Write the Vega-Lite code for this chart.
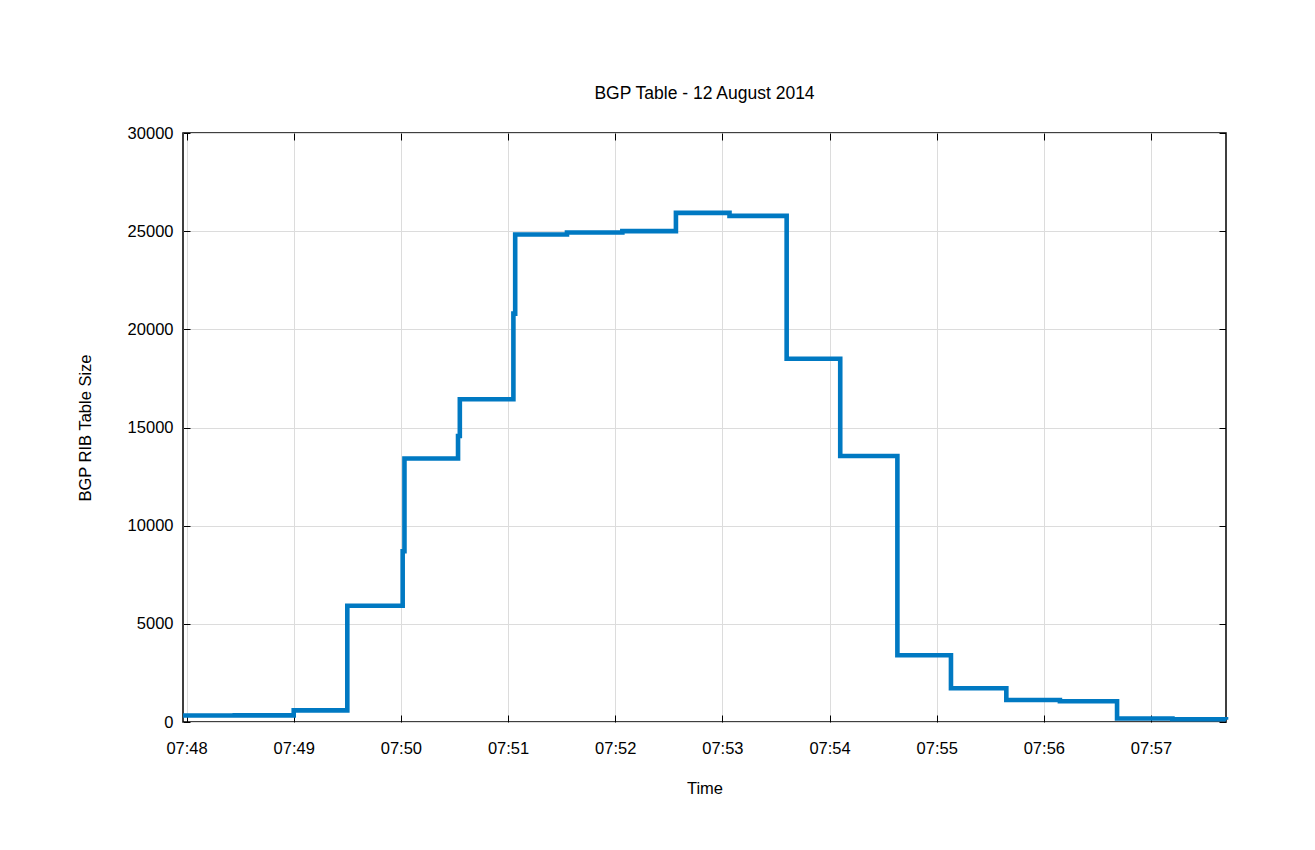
{
  "$schema": "https://vega.github.io/schema/vega-lite/v6.json",
  "autosize": {"type": "none"},
  "padding": {"left": 183, "top": 133, "right": 89, "bottom": 128},
  "width": 1043,
  "height": 589,
  "background": "white",
  "title": {
    "text": "BGP Table - 12 August 2014",
    "font": "Liberation Sans",
    "fontSize": 17.5,
    "fontWeight": "normal",
    "color": "black",
    "anchor": "middle",
    "offset": 23
  },
  "config": {
    "view": {"stroke": "black", "strokeWidth": 1.5},
    "axis": {
      "labelFont": "Liberation Sans",
      "labelFontSize": 16.5,
      "labelColor": "black",
      "titleFont": "Liberation Sans",
      "titleFontSize": 16.5,
      "titleFontWeight": "normal",
      "titleColor": "black",
      "domain": false,
      "tickColor": "black",
      "tickWidth": 1,
      "gridColor": "#dcdcdc",
      "gridWidth": 1
    }
  },
  "data": {
    "values": [
      {"time": "2014-08-12T07:47:58", "size": 330},
      {"time": "2014-08-12T07:48:27", "size": 340},
      {"time": "2014-08-12T07:49:00", "size": 590},
      {"time": "2014-08-12T07:49:30", "size": 5920},
      {"time": "2014-08-12T07:50:01", "size": 8700},
      {"time": "2014-08-12T07:50:02", "size": 13420},
      {"time": "2014-08-12T07:50:32", "size": 14570},
      {"time": "2014-08-12T07:50:33", "size": 16440},
      {"time": "2014-08-12T07:51:03", "size": 20800},
      {"time": "2014-08-12T07:51:04", "size": 24830},
      {"time": "2014-08-12T07:51:33", "size": 24930},
      {"time": "2014-08-12T07:52:04", "size": 25000},
      {"time": "2014-08-12T07:52:34", "size": 25930},
      {"time": "2014-08-12T07:53:04", "size": 25780},
      {"time": "2014-08-12T07:53:36", "size": 18500},
      {"time": "2014-08-12T07:54:06", "size": 13550},
      {"time": "2014-08-12T07:54:38", "size": 3400},
      {"time": "2014-08-12T07:55:08", "size": 1720},
      {"time": "2014-08-12T07:55:39", "size": 1120},
      {"time": "2014-08-12T07:56:09", "size": 1060},
      {"time": "2014-08-12T07:56:41", "size": 180},
      {"time": "2014-08-12T07:57:12", "size": 140},
      {"time": "2014-08-12T07:57:42", "size": 120}
    ]
  },
  "resolve": {"axis": {"x": "independent", "y": "independent"}},
  "layer": [
    {
      "mark": {"type": "line", "interpolate": "step-after", "color": "#0079C2", "strokeWidth": 4.6, "strokeJoin": "miter", "strokeCap": "butt"},
      "encoding": {
        "x": {
          "field": "time",
          "type": "temporal",
          "axis": {
            "orient": "bottom",
            "title": "Time",
            "tickCount": 10,
            "format": "%H:%M",
            "tickSize": -7,
            "labelPadding": 25,
            "titlePadding": 24
          }
        },
        "y": {
          "field": "size",
          "type": "quantitative",
          "scale": {"domain": [0, 30000], "nice": false},
          "axis": {
            "orient": "left",
            "title": "BGP RIB Table Size",
            "values": [0, 5000, 10000, 15000, 20000, 25000, 30000],
            "format": "d",
            "tickSize": -7,
            "labelPadding": 17,
            "titlePadding": 34
          }
        }
      }
    },
    {
      "mark": {"type": "point", "opacity": 0},
      "encoding": {
        "x": {
          "field": "time",
          "type": "temporal",
          "axis": {
            "orient": "top",
            "title": null,
            "labels": false,
            "grid": false,
            "tickCount": 10,
            "tickSize": -7
          }
        },
        "y": {
          "field": "size",
          "type": "quantitative",
          "axis": {
            "orient": "right",
            "title": null,
            "labels": false,
            "grid": false,
            "values": [0, 5000, 10000, 15000, 20000, 25000, 30000],
            "tickSize": -7
          }
        }
      }
    }
  ]
}
